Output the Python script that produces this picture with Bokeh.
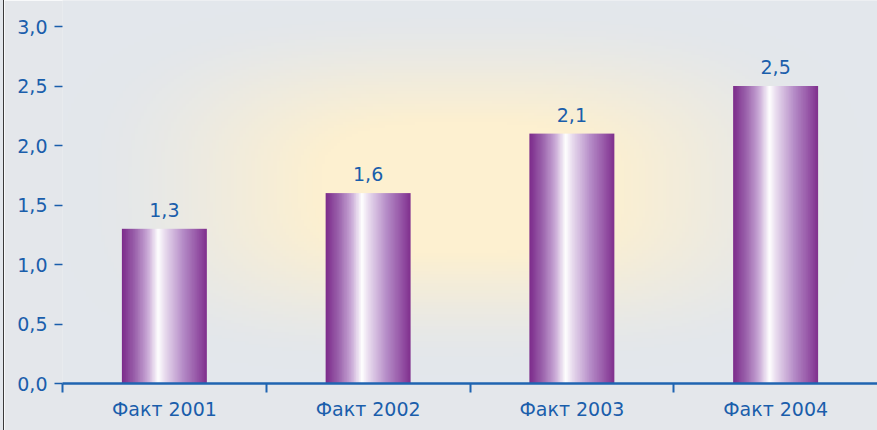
import numpy as np
from bokeh.plotting import figure
from bokeh.models import Range1d, FixedTicker, Div
from bokeh.layouts import row
from bokeh.core.properties import value
from bokeh.embed import file_html
from bokeh.resources import INLINE

# ---- data ----
categories = ["Факт 2001", "Факт 2002", "Факт 2003", "Факт 2004"]
values = [1.3, 1.6, 2.1, 2.5]
value_labels = ["1,3", "1,6", "2,1", "2,5"]
y_ticks = [0.0, 0.5, 1.0, 1.5, 2.0, 2.5, 3.0]
y_tick_labels = ["0,0", "0,5", "1,0", "1,5", "2,0", "2,5", "3,0"]

# ---- style ----
BLUE_TEXT = "#1a5eab"
BLUE_AXIS = "#1f64b1"
EDGE = np.array([227, 231, 236], dtype=float)
GLOW = np.array([253, 240, 208], dtype=float)
FONT = "DejaVu Sans"

W, H = 873, 430
LEFT, BOTTOM = 58, 47
frame_w = W - LEFT
frame_h = H - BOTTOM
px_per_unit = 119.0
y_end = frame_h / px_per_unit
n = len(values)
xs = [i + 0.5 for i in range(n)]
bar_w = 0.417

p = figure(width=W, height=H, output_backend="svg", toolbar_location=None,
           x_range=Range1d(0, n), y_range=Range1d(0, y_end),
           min_border_left=LEFT, min_border_right=0, min_border_top=0,
           min_border_bottom=BOTTOM, background_fill_color="#e3e7ec",
           border_fill_color="#e4e7eb", outline_line_color=None)
p.grid.visible = False

# background glow (frame pixels; canvas origin offset by 4 px div)
gw, gh = frame_w // 3, frame_h // 3
cx_px = (np.arange(gw) + 0.5) * 3 + LEFT + 4
cy_px = frame_h - (np.arange(gh) + 0.5) * 3  # row 0 at bottom
X, Y = np.meshgrid(cx_px, cy_px)
pw = 3.0
d = ((np.abs(X - 460) / 400) ** pw + (np.abs(Y - 188) / 185) ** pw) ** (1 / pw)
t = np.clip(1 - d, 0, 1)
t = t * t * (3 - 2 * t)
t = np.clip(t * 1.4, 0, 1)
rgb = EDGE[None, None, :] + (GLOW - EDGE)[None, None, :] * t[:, :, None]
img = np.empty((gh, gw), dtype=np.uint32)
view = img.view(dtype=np.uint8).reshape((gh, gw, 4))
view[:, :, 0] = rgb[:, :, 0].astype(np.uint8)
view[:, :, 1] = rgb[:, :, 1].astype(np.uint8)
view[:, :, 2] = rgb[:, :, 2].astype(np.uint8)
view[:, :, 3] = 255
p.image_rgba(image=[img], x=0, y=0, dw=n, dh=y_end)

# bar gradient profile
stops = [(0.0, (124, 43, 139)), (0.15, (155, 98, 172)), (0.30, (201, 168, 214)),
         (0.42, (255, 255, 255)), (0.52, (228, 212, 235)), (0.72, (180, 137, 198)),
         (0.90, (146, 78, 162)), (1.0, (126, 44, 138))]
N = 120
pos = (np.arange(N) + 0.5) / N
sp = np.array([s[0] for s in stops])
cols = np.array([s[1] for s in stops], dtype=float)
prof = np.stack([np.interp(pos, sp, cols[:, k]) for k in range(3)], axis=1)
bar_img = np.empty((2, N), dtype=np.uint32)
bv = bar_img.view(dtype=np.uint8).reshape((2, N, 4))
for r in range(2):
    bv[r, :, 0] = prof[:, 0].astype(np.uint8)
    bv[r, :, 1] = prof[:, 1].astype(np.uint8)
    bv[r, :, 2] = prof[:, 2].astype(np.uint8)
    bv[r, :, 3] = 255

p.image_rgba(image=[bar_img] * n, x=[x - bar_w / 2 for x in xs], y=[0] * n,
             dw=[bar_w] * n, dh=values)

# value labels
p.text(x=xs, y=values, text=value_labels, y_offset=-19,
       text_baseline="alphabetic", text_align="center",
       text_font=value(FONT), text_font_size="19px", text_color=BLUE_TEXT)

# x axis
xa = p.xaxis[0]
xa.ticker = FixedTicker(ticks=xs, minor_ticks=list(range(n)))
xa.major_label_overrides = {x: c for x, c in zip(xs, categories)}
xa.major_tick_out = 0
xa.major_tick_in = 0
xa.minor_tick_out = 9
xa.minor_tick_in = 0
xa.minor_tick_line_color = BLUE_AXIS
xa.minor_tick_line_width = 2
xa.axis_line_color = BLUE_AXIS
xa.axis_line_width = 2.5
xa.major_label_standoff = 5
xa.major_label_text_font = FONT
xa.major_label_text_font_size = "19px"
xa.major_label_text_color = BLUE_TEXT

# y axis
ya = p.yaxis[0]
ya.ticker = FixedTicker(ticks=y_ticks)
ya.major_label_overrides = {v: s for v, s in zip(y_ticks, y_tick_labels)}
ya.axis_line_color = None
ya.major_tick_out = 8
ya.major_tick_in = 0
ya.major_tick_line_color = BLUE_TEXT
ya.major_tick_line_width = 1.5
ya.minor_tick_line_color = None
ya.major_label_standoff = 7
ya.major_label_text_font = FONT
ya.major_label_text_font_size = "19px"
ya.major_label_text_color = BLUE_TEXT

edge = Div(text="", width=4, height=H, margin=0,
           styles={"background": "linear-gradient(to right, #e3e7ec 0px, #e3e7ec 3px, #3a3a3a 3px, #3a3a3a 4px)"})
layout = row(edge, p, spacing=0)

open("out.html", "w").write(file_html(layout, INLINE))
